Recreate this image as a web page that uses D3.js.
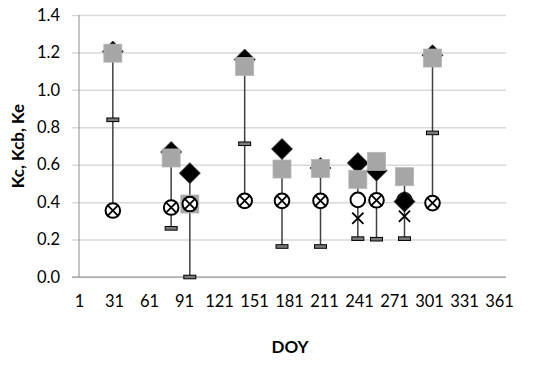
<!DOCTYPE html>
<html>
<head>
<meta charset="utf-8">
<script src="https://cdn.jsdelivr.net/npm/d3@7/dist/d3.min.js"></script>
<style>
body { margin: 0; background: #fff; }
#plot1 { width: 539px; height: 370px; }
text { font-family: Lato, "Open Sans", sans-serif; fill: #000; }
</style>
</head>
<body>
<div id="plot1"></div>
<script>
// data
var doy = [30, 80, 96, 143, 175, 208, 240, 256, 280, 304];
var kc = [1.205, 0.668, 0.555, 1.162, 0.684, 0.582, 0.609, 0.568, null, 1.185];   // black diamonds
var kcb = [1.196, 0.636, 0.39, 1.125, 0.577, 0.58, 0.522, 0.618, 0.536, 1.17];    // grey squares
var ke = [0.355, 0.371, 0.39, 0.407, 0.407, 0.407, 0.412, 0.41, 0.41, 0.395];     // circles
var keX = [0.355, 0.371, 0.39, 0.407, 0.407, 0.407, 0.314, 0.41, 0.325, 0.395];   // crosses
var kcLate = [null, null, null, null, null, null, null, null, 0.403, null];       // diamond drawn over circle
var kcMin = [0.84, 0.26, 0.0, 0.712, 0.163, 0.163, 0.205, 0.202, 0.205, 0.77];    // dash markers
var xTicks = [1, 31, 61, 91, 121, 151, 181, 211, 241, 271, 301, 331, 361];
var yTicks = [0, 0.2, 0.4, 0.6, 0.8, 1.0, 1.2, 1.4];

var margin1 = {t: 15, r: 33, b: 93, l: 79};
var width1 = 539 - margin1.l - margin1.r,
    height1 = 370 - margin1.t - margin1.b;

var plot1 = d3.select('#plot1').append('svg')
    .attr('width', 539).attr('height', 370);

var scaleX = d3.scaleLinear().domain([1, 367]).range([0, width1]);
var scaleY = d3.scaleLinear().domain([0, 1.4]).range([height1, 0]);

var g = plot1.append('g').attr('transform', 'translate(' + margin1.l + ',' + margin1.t + ')');

// gridlines + y axis
var axisY = d3.axisLeft(scaleY).tickValues(yTicks).tickSizeInner(-width1).tickSizeOuter(0)
    .tickPadding(19).tickFormat(d3.format('.1f'));
var gy = g.append('g').attr('class', 'axis-y').call(axisY);
gy.selectAll('.tick line').attr('x1', -7).attr('stroke', '#d9d9d9').attr('stroke-width', 1.5);
gy.select('.domain').remove();
gy.selectAll('text').style('font-size', '16.5px');
g.append('line').attr('x1', 0).attr('x2', 0).attr('y1', 0).attr('y2', height1)
    .attr('stroke', '#8c8c8c').attr('stroke-width', 1);
g.append('line').attr('x1', -7).attr('x2', width1).attr('y1', height1).attr('y2', height1)
    .attr('stroke', '#8c8c8c').attr('stroke-width', 1.2);

// x axis
var axisX = d3.axisBottom(scaleX).tickValues(xTicks).tickSize(0).tickPadding(18);
var gx = g.append('g').attr('transform', 'translate(0,' + height1 + ')').call(axisX);
gx.select('.domain').remove();
gx.selectAll('text').style('font-size', '16.5px');

// titles
plot1.append('text').attr('x', 290).attr('y', 353).attr('text-anchor', 'middle')
    .style('font-size', '17px').style('font-weight', 'bold').text('DOY');
plot1.append('text').attr('transform', 'translate(24,146) rotate(-90)').attr('text-anchor', 'middle')
    .style('font-size', '17px').style('font-weight', 'bold').text('Kc, Kcb, Ke');

// vertical range lines
var rows = doy.map(function(d, i) {
    var vals = [kc[i], kcb[i], ke[i], keX[i], kcLate[i], kcMin[i]].filter(function(v){return v != null});
    return {doy: d, lo: d3.min(vals), hi: d3.max(vals)};
});
g.selectAll('.range').data(rows).enter().append('line')
    .attr('x1', function(d){return scaleX(d.doy)}).attr('x2', function(d){return scaleX(d.doy)})
    .attr('y1', function(d){return scaleY(d.hi)}).attr('y2', function(d){return scaleY(d.lo)})
    .attr('stroke', '#404040').attr('stroke-width', 1.5);

function pts(arr) {
    return doy.map(function(d, i){return {doy: d, v: arr[i]}}).filter(function(p){return p.v != null});
}
var diamond = 'M0,-10.5L10.5,0L0,10.5L-10.5,0Z';
function pos(d){return 'translate(' + scaleX(d.doy) + ',' + scaleY(d.v) + ')'}

g.selectAll('.kc').data(pts(kc)).enter().append('path')
    .attr('d', diamond).attr('transform', pos)
    .attr('fill', '#000').attr('stroke', '#3a3a3a').attr('stroke-width', 0.8);

g.selectAll('.kcb').data(pts(kcb)).enter().append('rect')
    .attr('x', -9).attr('y', -9).attr('width', 18).attr('height', 18).attr('transform', pos)
    .attr('fill', '#a6a6a6').attr('stroke', '#b4b4b4').attr('stroke-width', 0.8);

g.selectAll('.ke').data(pts(ke)).enter().append('circle')
    .attr('r', 7.3).attr('transform', pos)
    .attr('fill', '#fff').attr('stroke', '#000').attr('stroke-width', 2);

g.selectAll('.kclate').data(pts(kcLate)).enter().append('path')
    .attr('d', diamond).attr('transform', pos)
    .attr('fill', '#000').attr('stroke', '#3a3a3a').attr('stroke-width', 0.8);

g.selectAll('.kex').data(pts(keX)).enter().append('path')
    .attr('d', 'M-5.6,-5.6L5.6,5.6M-5.6,5.6L5.6,-5.6').attr('transform', pos)
    .attr('fill', 'none').attr('stroke', '#000').attr('stroke-width', 1.8);

g.selectAll('.kcmin').data(pts(kcMin)).enter().append('rect')
    .attr('x', -6).attr('y', -1.8).attr('width', 12).attr('height', 3.6).attr('transform', pos)
    .attr('fill', '#7a7a7a').attr('stroke', '#000').attr('stroke-width', 1);
</script>
</body>
</html>
